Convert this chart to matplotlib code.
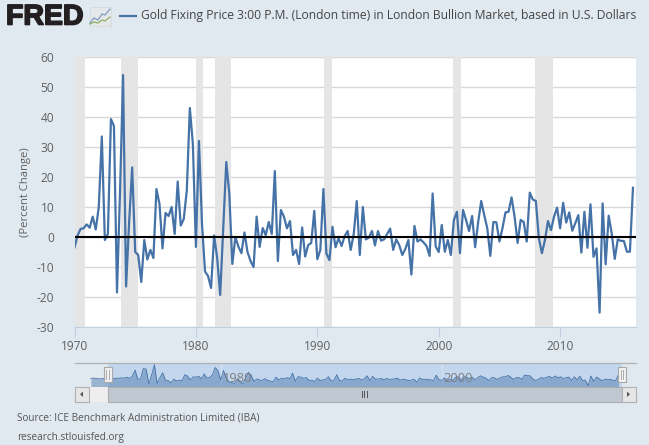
import matplotlib
matplotlib.use("Agg")
import matplotlib.pyplot as plt
import matplotlib.ticker as mticker
import matplotlib.patheffects as pe
from matplotlib.patches import Rectangle, Polygon
from matplotlib.lines import Line2D

plt.rcParams['font.family'] = ['Open Sans', 'DejaVu Sans']

W, H = 649, 445
BG = '#e1e9f0'
LINE = '#4572a7'
TXT = '#606060'

title = 'Gold Fixing Price 3:00 P.M. (London time) in London Bullion Market, based in U.S. Dollars'
ylabel = '(Percent Change)'
source = 'Source: ICE Benchmark Administration Limited (IBA)'
site = 'research.stlouisfed.org'

start_year = 1970.0
pct_change = [
    -3.5, 0.5, 2.7, 2.9, 4.2, 3.1, 6.8, 2.5, 10, 33.5, -1, 1, 39.3, 37, -18.5, 15,
    54, -16.5, 5, 23.2, -5, -6, -15, -1, -7.5, -4.3, -7, 16, 11, -3.8, 8, 7,
    10, 1, 18.5, 3.8, 6, 15.5, 43, 31, -3.3, 32, 4.5, -11.5, -13, -17, 0.5, -7,
    -19.3, 3, 25, 14.5, -9, 0, -3.2, -5.4, 1.5, -5, -8, -10, 6.8, -3.3, 3, 0.6,
    5, 1, 22, -8, 9, 6.8, 2.9, 5.3, -6, -4.3, -9, 3.2, -6.5, -2.7, -2, 8.7,
    -7.4, -4.3, 16, -5.5, -7.7, 3.4, -3.4, -0.4, -3, 0.3, 2, -4.3, 1, 12, -6, 10,
    -0.8, -0.2, 2, -2.8, 2, -1.2, -0.8, 1, 2.8, -4.3, -0.8, -2.7, -6, -4, -1, -12.5,
    3.7, -1.5, -0.8, -1.8, -3, -6.3, 14.5, -3.2, -5, 4, -4.9, -1, -6, 5.7, 8.4, -5.4,
    9, 5.7, 2, 7, -3.4, 5, 12, 7.3, 2.9, -6.3, 5, 4.9, -1.5, 2.9, 8.2, 8.4,
    13.2, 6.8, -2, 5.7, 5, -1.5, 14.8, 12.5, 12, -0.4, -5.4, -1, 5.3, 2.3, 6.8, 9.8,
    2.9, 11.4, 4.8, 8.2, 2.1, 4.6, 7.3, -5.2, 8.4, -3.6, 10.9, -6.6, -3.8, -25.2, 11.2, -9.1,
    7.1, 1.2, -7.3, -0.8, -1.3, -1.3, -4.9, -4.9, 16.4,
]
early_years = [1968.25, 1968.5, 1968.75, 1969.0, 1969.25, 1969.5, 1969.75]
early_change = [1.5, 3.5, 2.0, 0.5, 1.0, 1.5, 1.5]

recessions = [(1969.95, 1970.87), (1973.87, 1975.2), (1980.0, 1980.55),
              (1981.55, 1982.87), (1990.55, 1991.2), (2001.2, 2001.87),
              (2007.95, 2009.45)]
y_ticks = [-30, -20, -10, 0, 10, 20, 30, 40, 50, 60]
x_ticks = [1970, 1980, 1990, 2000, 2010]
nav_ticks = [1980, 2000]

years = [start_year + i * 0.25 for i in range(len(pct_change))]

fig = plt.figure(figsize=(W / 100, H / 100), dpi=100, facecolor=BG)


def px_axes(x0, y0, x1, y1, **kw):
    return fig.add_axes([x0 / W, 1 - y1 / H, (x1 - x0) / W, (y1 - y0) / H], **kw)


def rect(x0, y0, x1, y1, fc, ec='none', lw=0, z=1):
    fig.add_artist(Rectangle((x0 / W, 1 - y1 / H), (x1 - x0) / W, (y1 - y0) / H,
                             transform=fig.transFigure, fc=fc, ec=ec, lw=lw, zorder=z))


def seg(xs, ys, c, lw=1, z=5):
    fig.add_artist(Line2D([x / W for x in xs], [1 - y / H for y in ys],
                          transform=fig.transFigure, color=c, lw=lw, zorder=z))


def label(x, y, s, **kw):
    kw.setdefault('va', 'center')
    kw.setdefault('color', TXT)
    fig.text(x / W, 1 - y / H, s, **kw)


# main plot
ax = px_axes(74.5, 57, 636, 327)
ax.set_facecolor('white')
ax.set_xlim(1970, 2016.25)
ax.set_ylim(-30, 60)
for a, b in recessions:
    ax.axvspan(a, b, color='#e5e5e5', lw=0, zorder=1)
ax.set_yticks(y_ticks)
ax.set_xticks(x_ticks)
ax.grid(axis='y', color='#d8d8d8', lw=1.0, zorder=2)
ax.set_axisbelow(True)
ax.plot(years, pct_change, color=LINE, lw=1.6, zorder=3)
ax.axhline(0, color='black', lw=1.5, zorder=4)
for s in ['top', 'right', 'left']:
    ax.spines[s].set_visible(False)
ax.spines['bottom'].set_color('#c0d0e0')
ax.tick_params(axis='y', length=0, pad=14.5, labelsize=8.6, labelcolor=TXT)
ax.tick_params(axis='x', length=7, width=0.8, color='#c0d0e0', pad=2.5, labelsize=8.6, labelcolor=TXT)
ax.yaxis.set_major_formatter(mticker.FuncFormatter(lambda v, _: f'{v:.0f}'))
label(26, 192, ylabel, rotation=90, ha='center', fontsize=8.1)

# header
label(6, 17.5, 'FRED', ha='left', fontsize=20.5, fontweight='bold', family='Liberation Sans',
      color='#231f20', path_effects=[pe.withStroke(linewidth=1.2, foreground='#231f20')])
rect(89.5, 7, 110.5, 26, '#e4e8ea', ec='#d5d9dc', lw=0.6, z=2)
seg([90, 94, 98, 102, 105, 110], [23, 18, 20, 14, 15, 9], '#7f9cc0', lw=0.9)
seg([90, 94, 98, 102, 105, 110], [24, 22, 23, 20, 21, 17], '#8fb060', lw=0.9)
seg([120, 136], [16, 16], LINE, lw=1.6)
label(141, 15.5, title, ha='left', fontsize=8.72, color='#444444')

# navigator
NX0, NX1 = 74.5, 636
NY0, NY1 = 363, 387
rect(107.5, NY0, 621.5, NY1, '#c2d6ee', z=1)
nav = px_axes(NX0, NY0, NX1, NY1)
nav.set_zorder(2)
nav.patch.set_alpha(0)
nav.set_xlim(1966.77, 2017.58)
nav.set_ylim(-30, 60)
nav.axis('off')
nav_x = early_years + years
nav_y = early_change + pct_change
nav.fill_between(nav_x, nav_y, -30, color='#4572a7', alpha=0.45, lw=0, zorder=2)
nav.plot(nav_x, nav_y, color=LINE, lw=0.6, zorder=3)
for t in nav_ticks:
    nav.axvline(t, color='#d6e2f0', lw=0.8, zorder=1)
    nav.annotate(str(t), (t, 0), xytext=(1.5, 0), textcoords='offset points', ha='left',
                 va='center', fontsize=9.3, color='#7f7f7f', zorder=5, annotation_clip=False)
seg([NX0, NX1], [NY0 - 0.3, NY0 - 0.3], '#b0b0b0', lw=0.9, z=6)

# scrollbar
rect(88.5, 387, 107.5, 401.5, '#eeeeee', z=3)
rect(107.5, 387, 621.5, 401.5, '#bfc8d1', ec='#adadad', lw=0.8, z=3)
rect(74.5, 387, 88.5, 401.5, '#e6e6e6', ec='#b0b0b0', lw=0.8, z=4)
rect(621.5, 387, 635.5, 401.5, '#e6e6e6', ec='#b0b0b0', lw=0.8, z=4)
fig.add_artist(Polygon([(83 / W, 1 - 391.5 / H), (83 / W, 1 - 397 / H), (80 / W, 1 - 394.3 / H)],
                       transform=fig.transFigure, fc='#555555', ec='none', zorder=6))
fig.add_artist(Polygon([(627 / W, 1 - 391.5 / H), (627 / W, 1 - 397 / H), (630 / W, 1 - 394.3 / H)],
                       transform=fig.transFigure, fc='#555555', ec='none', zorder=6))
for gx in (361.5, 364.3, 367):
    seg([gx, gx], [391, 397], '#555555', lw=0.7)
for hx in (107.5, 621.7):
    rect(hx - 4, 367, hx + 4, 382, '#f2f2f2', ec='#a8a8a8', lw=0.8, z=7)
    for d in (-1.2, 1.2):
        seg([hx + d, hx + d], [370, 379], '#aaaaaa', lw=0.7, z=8)

# footer
label(17, 418.5, source, ha='left', fontsize=7.2, color='#555555')
label(17, 437.5, site, ha='left', fontsize=7.2, color='#555555')

fig.savefig('out.png', dpi=100, facecolor=BG)
